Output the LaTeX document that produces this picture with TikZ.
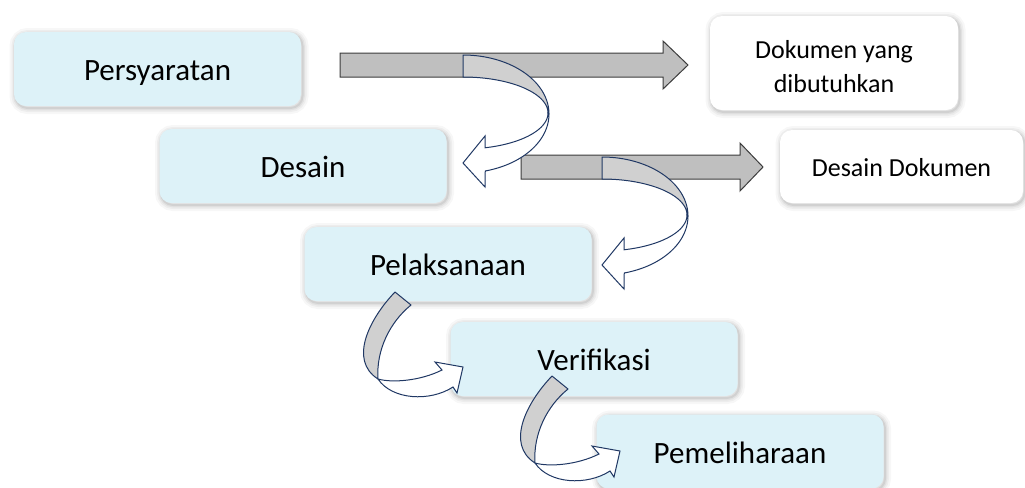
\documentclass[tikz,border=0pt]{standalone}
\usepackage{fontspec}
\setmainfont{Carlito}
\definecolor{boxfill}{RGB}{221,242,248}
\definecolor{flatgray}{RGB}{191,191,191}
\definecolor{flatline}{RGB}{60,60,60}
\definecolor{ribbongray}{RGB}{208,208,208}
\definecolor{ribbonline}{RGB}{32,56,100}
\begin{document}
\begin{tikzpicture}[x=0.75pt,y=-0.75pt,
  shadowed/.style={
    preaction={draw=black, draw opacity=0.03, line width=9pt, transform canvas={shift={(1.5,2)}}},
    preaction={draw=black, draw opacity=0.04, line width=6pt, transform canvas={shift={(1.5,2)}}},
    preaction={draw=black, draw opacity=0.05, line width=3.5pt, transform canvas={shift={(1.5,2)}}},
    preaction={draw=black, draw opacity=0.07, line width=1.5pt, transform canvas={shift={(1.5,2)}}}},
  stage/.style={shadowed, rounded corners=9pt, fill=boxfill, inner sep=0pt,
    minimum width=215.25pt, minimum height=55.5pt,
    text height=17.4pt, text depth=0pt, font=\fontsize{23.25pt}{28pt}\selectfont},
  docbox/.style={shadowed, rounded corners=9pt, fill=white, inner sep=0pt, align=center,
    font=\fontsize{19.5pt}{25.5pt}\selectfont},
  flatarrow/.style={fill=flatgray, draw=flatline, line width=0.75pt, line join=miter},
  ribbonback/.style={fill=ribbongray, draw=ribbonline, line width=0.75pt, line join=round},
  ribbonfront/.style={fill=white, draw=ribbonline, line width=0.75pt, line join=miter}]
\useasboundingbox (0,0) rectangle (1025,487);
\clip (0,0) rectangle (1025,487);

% stage boxes
\node[stage] (persyaratan) at (157.5,69) {Persyaratan};
\node[stage] (desain) at (303,166) {Desain};
\node[stage] (pelaksanaan) at (448,264) {Pelaksanaan};
\node[stage] (verifikasi) at (594,359) {Verifikasi};
\node[stage] (pemeliharaan) at (740,451.5) {Pemeliharaan};

% document boxes
\node[docbox, minimum width=186pt, minimum height=70.5pt] (dokumen) at (834,63) {};
\node[font=\fontsize{19.5pt}{25.5pt}\selectfont, align=center, inner sep=0pt] (dokumentext) at (834,67) {Dokumen yang\\dibutuhkan};
\node[docbox, minimum width=182.25pt, minimum height=54.75pt, text height=14.6pt, text depth=0pt] (desaindok) at (901.5,166.5) {Desain Dokumen};

% straight block arrows
\draw[flatarrow] (340,53) -- (663,53) -- (663,41) -- (688,65) -- (663,89) -- (663,77) -- (340,77) -- cycle;
\draw[flatarrow] (521,155) -- (740,155) -- (740,143) -- (763,167) -- (740,191) -- (740,179) -- (521,179) -- cycle;

% curved arrows turning back to the left
\foreach \dx/\dy in {0/0, 139/102} {
  \begin{scope}[shift={(\dx,\dy)}]
    \draw[ribbonback] plot[domain=-90:0,samples=40] ({463+86*cos(\x)},{114+59*sin(\x)})
      -- plot[domain=0:-90,samples=40] ({463+85*cos(\x)},{113+36*sin(\x)}) -- cycle;
    \draw[ribbonfront] plot[domain=0:75,samples=40] ({463+86*cos(\x)},{114+59*sin(\x)})
      -- (485,187) -- (463,163) -- (485,136)
      -- plot[domain=75:0,samples=40] ({463+85*cos(\x)},{113+36*sin(\x)}) -- cycle;
  \end{scope}
}

% curved arrows turning to the right
\foreach \dx/\dy in {0/0, 157/84} {
  \begin{scope}[shift={(\dx,\dy)}]
    \draw[ribbonback] (395,292) .. controls (370,318) and (348,360) .. (378,379)
      .. controls (376,350) and (390,322) .. (411,305) -- cycle;
    \draw[ribbonfront] (378,379) .. controls (392,400) and (430,402) .. (453,387)
      -- (457,393) -- (463,367) -- (435,362) -- (442,370)
      .. controls (420,381) and (392,383) .. (378,379) -- cycle;
  \end{scope}
}
\end{tikzpicture}
\end{document}
